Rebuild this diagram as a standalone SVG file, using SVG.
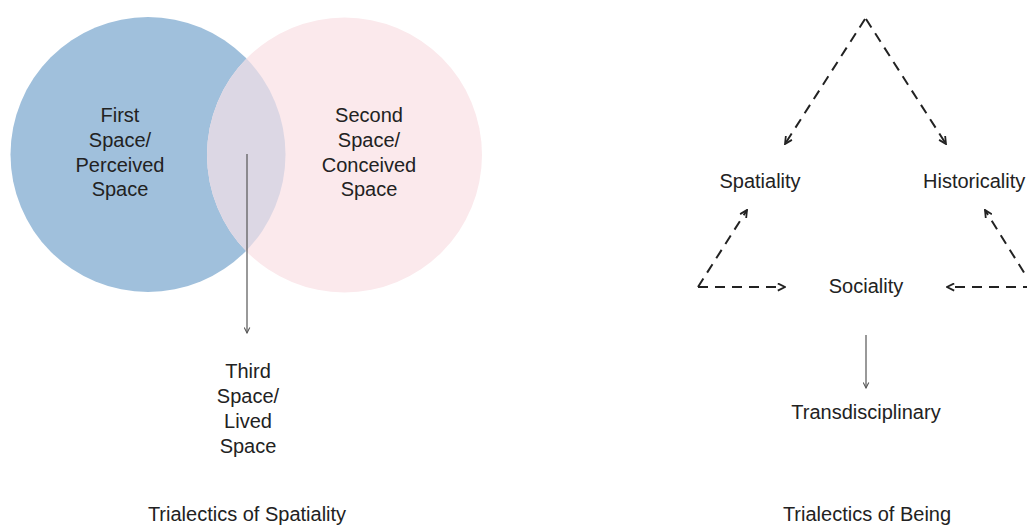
<svg xmlns="http://www.w3.org/2000/svg" width="1027" height="526" viewBox="0 0 1027 526">
  <style>
    .t { font-family: "Liberation Sans", Arial, sans-serif; font-size: 20px; fill: #222; text-anchor: middle; }
    .ts { font-family: "Liberation Sans", Arial, sans-serif; font-size: 20px; fill: #222; }
    .dash { fill: none; stroke: #222; stroke-width: 2; stroke-dasharray: 10 7; }
    .solid { fill: none; stroke: #555; stroke-width: 1.2; }
  </style>
  <defs>
    <marker id="open" viewBox="0 0 10 10" refX="9" refY="5" markerWidth="9" markerHeight="9" markerUnits="userSpaceOnUse" orient="auto">
      <path d="M1,1 L9,5 L1,9" fill="none" stroke="#222" stroke-width="2"/>
    </marker>
    <marker id="small" viewBox="0 0 10 10" refX="9" refY="5" markerWidth="7" markerHeight="7" markerUnits="userSpaceOnUse" orient="auto">
      <path d="M1,1 L9,5 L1,9" fill="none" stroke="#555" stroke-width="1.5"/>
    </marker>
    <clipPath id="leftClip">
      <circle cx="148" cy="154.5" r="137.5"/>
    </clipPath>
  </defs>
  <rect width="1027" height="526" fill="#ffffff"/>

  <g id="first-space">
    <circle cx="148" cy="154.5" r="137.5" fill="#a0c0dc"/>
  </g>
  <g id="second-space">
    <circle cx="344.5" cy="155" r="137.5" fill="#fbe9ec"/>
  </g>
  <g id="overlap">
    <circle cx="344.5" cy="155" r="137.5" fill="#dcd7e4" clip-path="url(#leftClip)"/>
  </g>
  <g id="first-space-label">
    <text class="t" x="120" y="122">First</text>
    <text class="t" x="120" y="147">Space/</text>
    <text class="t" x="120" y="172">Perceived</text>
    <text class="t" x="120" y="196">Space</text>
  </g>
  <g id="second-space-label">
    <text class="t" x="369" y="122">Second</text>
    <text class="t" x="369" y="147">Space/</text>
    <text class="t" x="369" y="172">Conceived</text>
    <text class="t" x="369" y="196">Space</text>
  </g>
  <g id="third-space">
    <text class="t" x="248" y="378">Third</text>
    <text class="t" x="248" y="403">Space/</text>
    <text class="t" x="248" y="428">Lived</text>
    <text class="t" x="248" y="453">Space</text>
  </g>
  <g id="title-left">
    <text class="t" x="247" y="521">Trialectics of Spatiality</text>
  </g>

  <g id="spatiality"><text class="t" x="760" y="188">Spatiality</text></g>
  <g id="historicality"><text class="ts" x="923" y="188">Historicality</text></g>
  <g id="sociality"><text class="t" x="866" y="293">Sociality</text></g>
  <g id="transdisciplinary"><text class="t" x="866" y="419">Transdisciplinary</text></g>
  <g id="title-right">
    <text class="t" x="867" y="521">Trialectics of Being</text>
  </g>

  <g id="connectors">
    <line class="solid" x1="247" y1="154" x2="247" y2="333" marker-end="url(#small)"/>
    <line class="solid" x1="866" y1="335" x2="866" y2="388" marker-end="url(#small)"/>
    <line class="dash" x1="865" y1="19" x2="785" y2="144" marker-end="url(#open)"/>
    <line class="dash" x1="866" y1="19" x2="946" y2="144" marker-end="url(#open)"/>
    <line class="dash" x1="698" y1="287" x2="747" y2="210" marker-end="url(#open)"/>
    <line class="dash" x1="698" y1="287" x2="785" y2="287" marker-end="url(#open)"/>
    <line class="dash" x1="1033" y1="287" x2="985" y2="210" marker-end="url(#open)"/>
    <line class="dash" x1="1033" y1="287" x2="947" y2="287" marker-end="url(#open)"/>
  </g>
</svg>
